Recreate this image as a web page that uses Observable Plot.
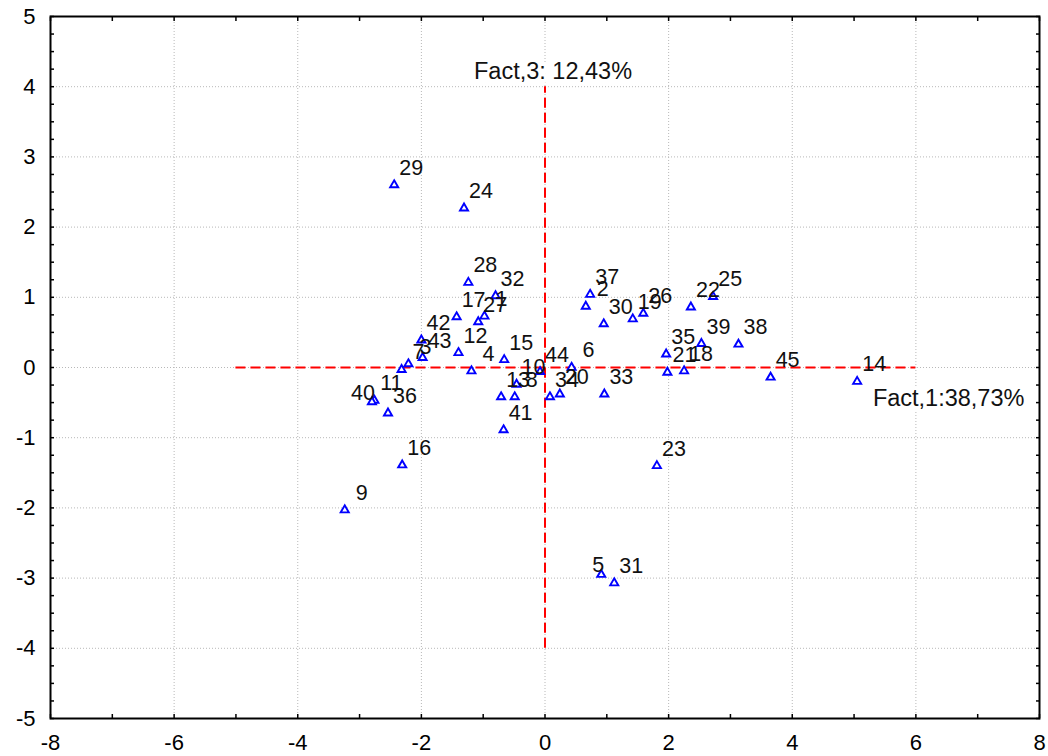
<!DOCTYPE html>
<html>
<head>
<meta charset="utf-8">
<script src="https://cdn.jsdelivr.net/npm/d3@7"></script>
<script src="https://cdn.jsdelivr.net/npm/@observablehq/plot@0.6"></script>
<style>
  body { margin: 0; background: #fff; }
  #chart svg { display: block; }
</style>
</head>
<body>
<div id="chart"></div>
<script>
// Case identifiers
const ids = ["1","2","3","4","5","6","7","8","9","10","11","12","13","14","15",
             "16","17","18","19","20","21","22","23","24","25","26","27","28","29","30",
             "31","32","33","34","35","36","37","38","39","40","41","42","43","44","45"];
// Factor 1 scores (x)
const fact1 = [-0.98, 0.66, -2.21, -1.19, 0.91, 0.43, -2.32, -0.49, -3.24, -0.46,
               -2.76, -1.40, -0.71, 5.05, -0.66, -2.31, -1.43, 2.25, 1.42, 0.24,
               1.98, 2.36, 1.81, -1.31, 2.72, 1.59, -1.08, -1.24, -2.44, 0.95,
               1.12, -0.80, 0.96, 0.08, 1.96, -2.54, 0.73, 3.13, 2.53, -2.80,
               -0.67, -2.00, -1.98, -0.08, 3.65];
// Factor 3 scores (y)
const fact3 = [0.73, 0.87, 0.05, -0.05, -2.95, 0.00, -0.03, -0.42, -2.03, -0.24,
               -0.47, 0.21, -0.42, -0.20, 0.11, -1.39, 0.72, -0.05, 0.69, -0.38,
               -0.07, 0.86, -1.40, 2.27, 1.01, 0.77, 0.65, 1.21, 2.60, 0.62,
               -3.07, 1.02, -0.38, -0.42, 0.19, -0.65, 1.04, 0.33, 0.34, -0.49,
               -0.89, 0.39, 0.14, -0.06, -0.14];
// Labels drawn on the left side of their point
const leftLabelIds = ["40", "5"];

const xTickLabels = [-8, -6, -4, -2, 0, 2, 4, 6, 8];
const yTickLabels = [-5, -4, -3, -2, -1, 0, 1, 2, 3, 4, 5];
const xGridValues = [-6, -4, -2, 0, 2, 4, 6];
const yGridValues = [-4, -3, -2, -1, 0, 1, 2, 3, 4];
const xMinorTicks = d3.range(-8, 8.01, 1);
const yMinorTicks = d3.range(-5, 5.01, 0.25);

const axisNameX = "Fact,1:38,73%";
const axisNameY = "Fact,3: 12,43%";
// extent of the red factor axes
const hAxisSpan = [-5, 6];
const vAxisSpan = [-4, 4];

const points = ids.map((id, i) => ({id, f1: fact1[i], f3: fact3[i]}));
const rightPts = points.filter(d => !leftLabelIds.includes(d.id));
const leftPts = points.filter(d => leftLabelIds.includes(d.id));

const gridStyle = {stroke: "#b8b8b8", strokeOpacity: 1, strokeDasharray: "1,2", strokeWidth: 1};
const red = {stroke: "#ff0000", strokeWidth: 2, strokeDasharray: "10,5"};
const fmt = d => String(d);

const chart = Plot.plot({
  width: 1048,
  height: 756,
  marginLeft: 50,
  marginRight: 9,
  marginTop: 16,
  marginBottom: 38,
  x: {domain: [-8, 8]},
  y: {domain: [-5, 5]},
  style: {fontFamily: "'Liberation Sans', Arial, sans-serif", background: "white", color: "black"},
  marks: [
    Plot.gridX(xGridValues, gridStyle),
    Plot.gridY(yGridValues, gridStyle),
    Plot.ruleY([0], {x1: hAxisSpan[0], x2: hAxisSpan[1], ...red}),
    Plot.ruleX([0], {y1: vAxisSpan[0], y2: vAxisSpan[1], ...red}),
    Plot.dot(points, {x: "f1", y: "f3", symbol: "triangle", r: 3, stroke: "#0000ff", fill: "white", strokeWidth: 1.9}),
    Plot.text(rightPts, {x: "f1", y: "f3", text: "id", dx: 17, dy: -17, fontSize: 21.5, fill: "#111"}),
    Plot.text(leftPts, {x: "f1", y: "f3", text: "id", textAnchor: "end", dx: 3, dy: -9, fontSize: 21.5, fill: "#111"}),
    Plot.text([axisNameX], {x: hAxisSpan[1], y: 0, text: d => d, textAnchor: "start", dx: -43, dy: 31, fontSize: 23.5, fill: "#111", stroke: "white", strokeWidth: 8}),
    Plot.text([axisNameY], {x: 0, y: vAxisSpan[1], text: d => d, textAnchor: "middle", dx: 8, dy: -15, fontSize: 23.5, fill: "#111", stroke: "white", strokeWidth: 8}),
    Plot.frame({stroke: "black", strokeWidth: 2}),
    // inward tick marks on all four sides
    Plot.axisX(xMinorTicks, {anchor: "bottom", tickSize: 4, dy: -4, text: null, label: null, strokeWidth: 1.5}),
    Plot.axisX(xMinorTicks, {anchor: "top", tickSize: 4, dy: 4, text: null, label: null, strokeWidth: 1.5}),
    Plot.axisY(yMinorTicks, {anchor: "left", tickSize: 4, dx: 4, text: null, label: null, strokeWidth: 1.5}),
    Plot.axisY(yMinorTicks, {anchor: "right", tickSize: 4, dx: -4, text: null, label: null, strokeWidth: 1.5}),
    // tick labels
    Plot.axisX(xTickLabels, {anchor: "bottom", tickSize: 0, tickPadding: 16, fontSize: 22, tickFormat: fmt, label: null}),
    Plot.axisY(yTickLabels, {anchor: "left", tickSize: 0, tickPadding: 15, fontSize: 22, tickFormat: fmt, label: null})
  ]
});
document.getElementById("chart").appendChild(chart);
</script>
</body>
</html>
